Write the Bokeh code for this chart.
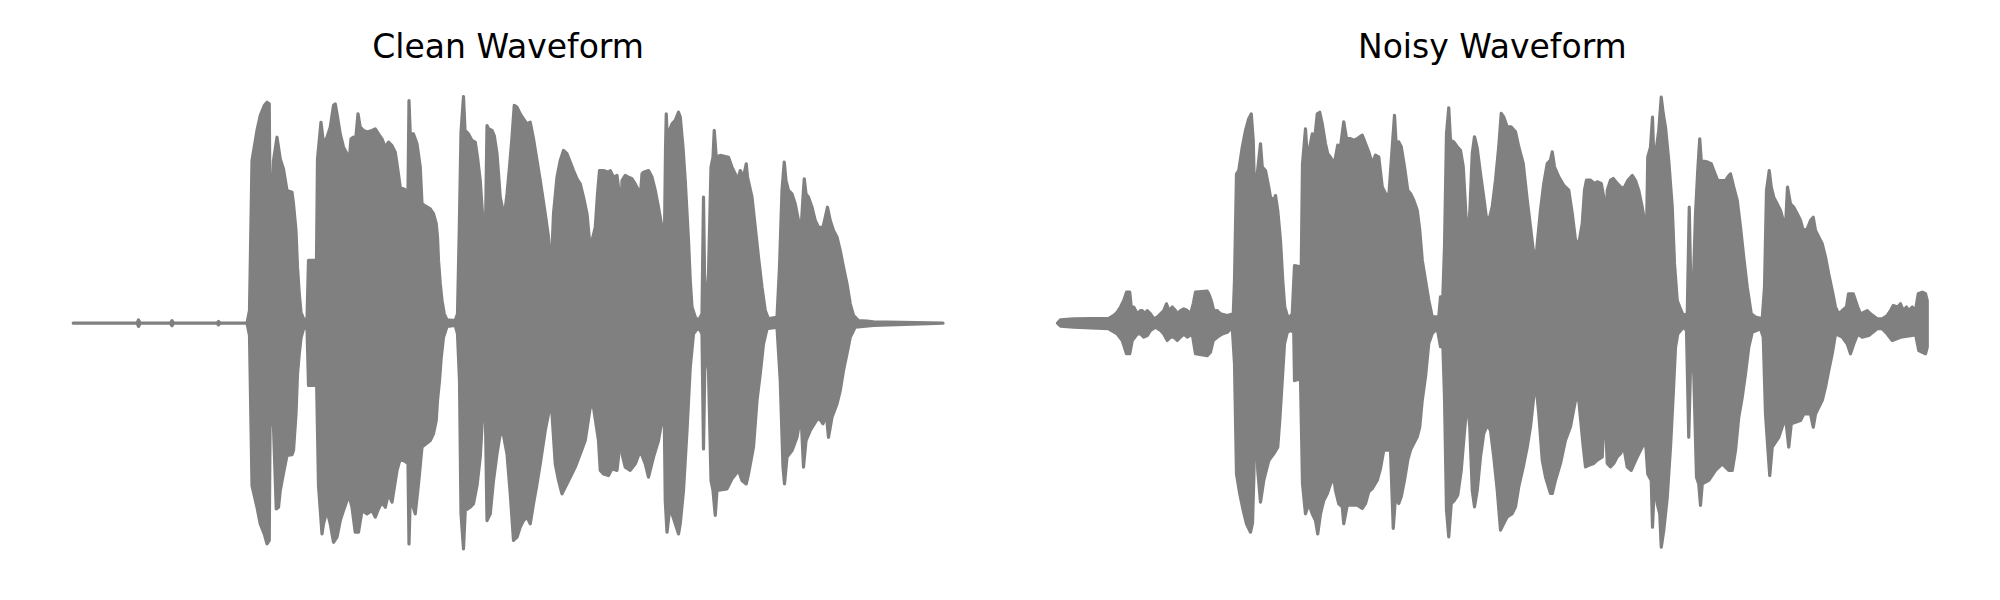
from bokeh.plotting import figure
from bokeh.layouts import row
from bokeh.models import Range1d, Label
from bokeh.embed import file_html
from bokeh.resources import INLINE

# Titles
titles = ["Clean Waveform", "Noisy Waveform"]

# ---- Clean waveform envelope (time in ms, amplitude normalised) ----
clean_up_t = [0, 255, 261, 268, 388, 395, 401, 575, 581, 588, 695, 705, 715, 735, 748, 764, 775, 784,
              788, 801, 815, 828, 841, 855, 875, 881, 891, 897, 904, 911, 921, 935, 941, 968, 972, 977,
              991, 1001, 1015, 1028, 1041, 1048, 1055, 1068, 1081, 1095, 1105, 1111, 1121, 1128, 1139,
              1148, 1161, 1175, 1195, 1208, 1221, 1235, 1248, 1261, 1275, 1288, 1295, 1308, 1332, 1339,
              1343, 1348, 1361, 1375, 1388, 1395, 1428, 1441, 1452, 1457, 1461, 1468, 1475, 1484, 1495,
              1528, 1537, 1544, 1551, 1561, 1567, 1581, 1595, 1608, 1617, 1628, 1637, 1648, 1655, 1661,
              1675, 1684, 1695, 1708, 1719, 1728, 1735, 1745, 1755, 1764, 1775, 1788, 1801, 1815, 1828,
              1841, 1855, 1868, 1888, 1901, 1908, 1915, 1921, 1935, 1948, 1961, 1975, 1988, 2001, 2015,
              2028, 2041, 2055, 2065, 2075, 2088, 2097, 2105, 2121, 2141, 2148, 2161, 2175, 2181, 2188,
              2195, 2208, 2221, 2235, 2248, 2261, 2268, 2275, 2281, 2301, 2315, 2328, 2341, 2355, 2364,
              2369, 2372, 2377, 2385, 2395, 2408, 2421, 2428, 2439, 2448, 2461, 2468, 2475, 2488, 2501,
              2515, 2521, 2527, 2535, 2541, 2551, 2559, 2564, 2572, 2588, 2621, 2635, 2648, 2657, 2668,
              2681, 2692, 2697, 2715, 2728, 2741, 2755, 2768, 2781, 2815, 2825, 2835, 2844, 2851, 2861,
              2875, 2888, 2901, 2911, 2919, 2924, 2931, 2941, 2955, 2968, 2981, 2999, 3008, 3017, 3028,
              3041, 3055, 3068, 3081, 3095, 3108, 3121, 3141, 3175, 3201, 3479]
clean_up_a = [0, 0, 0.014, 0, 0, 0.011, 0, 0, 0.007, 0, 0, 0.054, 0.697, 0.826, 0.89, 0.933, 0.947, 0.94,
              0.354, 0.697, 0.797, 0.704, 0.661, 0.569, 0.561, 0.511, 0.397, 0.24, 0.126, 0.047, 0.019, 0.014,
              0.269, 0.269, 0.171, 0.704, 0.861, 0.769, 0.797, 0.84, 0.933, 0.94, 0.897, 0.811, 0.754, 0.726,
              0.711, 0.79, 0.797, 0.769, 0.897, 0.84, 0.826, 0.819, 0.826, 0.833, 0.811, 0.79, 0.754, 0.776,
              0.761, 0.733, 0.683, 0.583, 0.569, 0.569, 0.954, 0.811, 0.811, 0.769, 0.669, 0.511, 0.49, 0.469,
              0.426, 0.369, 0.269, 0.169, 0.097, 0.04, 0.014, 0.011, 0.04, 0.397, 0.819, 0.971, 0.826, 0.811,
              0.783, 0.776, 0.711, 0.611, 0.469, 0.34, 0.847, 0.833, 0.826, 0.804, 0.726, 0.54, 0.483, 0.49,
              0.554, 0.669, 0.797, 0.933, 0.926, 0.897, 0.876, 0.854, 0.861, 0.79, 0.697, 0.611, 0.469, 0.369,
              0.261, 0.311, 0.469, 0.626, 0.697, 0.74, 0.726, 0.69, 0.654, 0.619, 0.597, 0.54, 0.469, 0.354,
              0.354, 0.411, 0.554, 0.654, 0.654, 0.647, 0.654, 0.626, 0.633, 0.583, 0.34, 0.611, 0.633, 0.626,
              0.619, 0.597, 0.569, 0.54, 0.64, 0.647, 0.654, 0.626, 0.569, 0.497, 0.411, 0.297, 0.74, 0.897,
              0.769, 0.826, 0.854, 0.869, 0.904, 0.883, 0.754, 0.611, 0.354, 0.183, 0.069, 0.026, 0.011, 0.04,
              0.54, 0.054, 0.126, 0.211, 0.669, 0.711, 0.826, 0.711, 0.719, 0.711, 0.669, 0.64, 0.611, 0.654,
              0.626, 0.683, 0.626, 0.54, 0.411, 0.283, 0.154, 0.054, 0.019, 0.026, 0.24, 0.569, 0.69, 0.611,
              0.569, 0.554, 0.511, 0.44, 0.397, 0.54, 0.619, 0.554, 0.54, 0.497, 0.44, 0.411, 0.411, 0.454,
              0.497, 0.44, 0.397, 0.369, 0.311, 0.24, 0.169, 0.083, 0.033, 0.011, 0.009, 0.006, 0]

clean_lo_t = [0, 255, 261, 268, 388, 395, 401, 575, 581, 588, 695, 705, 715, 735, 748, 764, 775, 784,
              788, 801, 812, 821, 828, 841, 855, 875, 881, 891, 897, 904, 911, 921, 935, 941, 968, 972, 981,
              995, 1001, 1015, 1028, 1041, 1055, 1068, 1081, 1095, 1105, 1115, 1128, 1141, 1155, 1175, 1195,
              1208, 1221, 1235, 1248, 1261, 1275, 1295, 1308, 1332, 1339, 1343, 1348, 1368, 1381, 1395, 1428,
              1441, 1452, 1457, 1465, 1472, 1481, 1495, 1528, 1537, 1545, 1551, 1561, 1568, 1588, 1601, 1615,
              1628, 1641, 1648, 1655, 1668, 1681, 1695, 1708, 1721, 1735, 1748, 1761, 1775, 1788, 1801, 1815,
              1828, 1841, 1855, 1868, 1888, 1901, 1908, 1915, 1928, 1941, 1955, 1968, 1988, 2008, 2028, 2048,
              2068, 2081, 2101, 2108, 2121, 2141, 2155, 2175, 2181, 2188, 2195, 2208, 2228, 2248, 2268, 2288,
              2301, 2321, 2341, 2355, 2364, 2368, 2375, 2385, 2395, 2408, 2421, 2428, 2441, 2455, 2468, 2481,
              2501, 2515, 2521, 2528, 2541, 2551, 2559, 2568, 2575, 2615, 2635, 2661, 2675, 2692, 2701, 2721,
              2735, 2748, 2761, 2775, 2815, 2828, 2839, 2845, 2855, 2875, 2895, 2911, 2921, 2931, 2948, 2981,
              2999, 3012, 3021, 3035, 3055, 3068, 3081, 3095, 3108, 3128, 3201, 3479]
clean_lo_a = [0, 0, -0.014, 0, 0, -0.011, 0, 0, -0.007, 0, 0, -0.053, -0.696, -0.789, -0.86, -0.903, -0.946,
              -0.931, -0.331, -0.446, -0.796, -0.789, -0.717, -0.643, -0.567, -0.564, -0.546, -0.389, -0.217,
              -0.131, -0.064, -0.024, -0.017, -0.267, -0.267, -0.171, -0.696, -0.903, -0.86, -0.803, -0.86,
              -0.939, -0.917, -0.846, -0.803, -0.76, -0.746, -0.789, -0.896, -0.896, -0.803, -0.817, -0.803,
              -0.831, -0.796, -0.767, -0.789, -0.731, -0.767, -0.631, -0.581, -0.596, -0.603, -0.946, -0.746,
              -0.817, -0.689, -0.531, -0.503, -0.474, -0.417, -0.331, -0.246, -0.146, -0.06, -0.014, -0.01,
              -0.046, -0.246, -0.817, -0.967, -0.803, -0.789, -0.774, -0.696, -0.574, -0.331, -0.346, -0.846,
              -0.817, -0.674, -0.56, -0.474, -0.481, -0.56, -0.731, -0.931, -0.917, -0.874, -0.846, -0.831,
              -0.86, -0.774, -0.689, -0.603, -0.46, -0.389, -0.331, -0.389, -0.603, -0.674, -0.731, -0.703,
              -0.66, -0.617, -0.56, -0.503, -0.36, -0.36, -0.503, -0.631, -0.646, -0.653, -0.624, -0.631,
              -0.574, -0.331, -0.56, -0.617, -0.631, -0.603, -0.546, -0.603, -0.66, -0.574, -0.503, -0.417,
              -0.389, -0.76, -0.896, -0.803, -0.817, -0.86, -0.903, -0.86, -0.717, -0.46, -0.189, -0.046,
              -0.017, -0.046, -0.539, -0.074, -0.203, -0.674, -0.717, -0.824, -0.717, -0.71, -0.667, -0.631,
              -0.674, -0.689, -0.646, -0.531, -0.331, -0.217, -0.089, -0.024, -0.017, -0.246, -0.617, -0.689,
              -0.574, -0.546, -0.489, -0.389, -0.617, -0.503, -0.46, -0.403, -0.431, -0.389, -0.489, -0.403,
              -0.346, -0.289, -0.203, -0.131, -0.06, -0.017, -0.01, 0]

# ---- Noisy waveform envelope (time in ms, amplitude normalised) ----
noisy_up_t = [0, 12, 65, 205, 225, 239, 252, 265, 276, 289, 295, 305, 319, 332, 339, 352, 359, 372, 385,
              399, 412, 425, 436, 445, 459, 472, 481, 492, 505, 519, 532, 543, 552, 599, 605, 615, 625, 639,
              652, 679, 703, 708, 716, 725, 739, 752, 765, 775, 783, 792, 799, 812, 819, 832, 845, 852, 865,
              872, 881, 892, 901, 909, 919, 929, 939, 948, 975, 980, 992, 999, 1009, 1019, 1028, 1039, 1049,
              1059, 1072, 1081, 1092, 1105, 1112, 1121, 1132, 1145, 1156, 1172, 1185, 1199, 1219, 1232, 1245,
              1259, 1272, 1285, 1299, 1312, 1325, 1339, 1348, 1356, 1365, 1375, 1388, 1401, 1412, 1425, 1439,
              1449, 1459, 1472, 1485, 1499, 1525, 1532, 1539, 1548, 1556, 1565, 1572, 1585, 1599, 1612, 1623,
              1632, 1639, 1649, 1659, 1668, 1679, 1692, 1703, 1716, 1729, 1739, 1752, 1765, 1775, 1785, 1799,
              1815, 1832, 1845, 1863, 1879, 1892, 1903, 1912, 1919, 1932, 1945, 1959, 1972, 1979, 1988, 2005,
              2025, 2045, 2059, 2072, 2085, 2099, 2108, 2116, 2132, 2148, 2159, 2175, 2185, 2192, 2199, 2212,
              2223, 2239, 2252, 2265, 2281, 2299, 2312, 2325, 2339, 2348, 2356, 2361, 2372, 2380, 2385, 2396,
              2405, 2415, 2423, 2432, 2445, 2459, 2468, 2479, 2489, 2503, 2519, 2527, 2535, 2543, 2552, 2561,
              2569, 2575, 2601, 2615, 2628, 2641, 2672, 2681, 2692, 2705, 2719, 2732, 2745, 2759, 2775, 2792,
              2819, 2828, 2836, 2847, 2855, 2865, 2879, 2892, 2903, 2912, 2920, 2932, 2945, 2959, 2972, 2983,
              2999, 3012, 3023, 3032, 3045, 3059, 3072, 3085, 3099, 3112, 3125, 3139, 3156, 3164, 3183, 3192,
              3201, 3212, 3239, 3252, 3279, 3299, 3319, 3332, 3343, 3361, 3372, 3383, 3396, 3405, 3419, 3432,
              3443, 3459, 3472, 3479]
noisy_up_a = [0, 0.014, 0.019, 0.021, 0.033, 0.047, 0.069, 0.097, 0.133, 0.133, 0.069, 0.069, 0.04, 0.054,
              0.054, 0.04, 0.054, 0.04, 0.019, 0.026, 0.04, 0.054, 0.083, 0.054, 0.069, 0.054, 0.04, 0.054,
              0.061, 0.054, 0.04, 0.083, 0.133, 0.137, 0.126, 0.097, 0.054, 0.054, 0.04, 0.033, 0.04, 0.183,
              0.64, 0.654, 0.754, 0.826, 0.876, 0.897, 0.783, 0.383, 0.64, 0.769, 0.669, 0.654, 0.583, 0.54,
              0.526, 0.547, 0.483, 0.354, 0.183, 0.069, 0.033, 0.026, 0.04, 0.247, 0.24, 0.683, 0.833, 0.711,
              0.754, 0.811, 0.783, 0.897, 0.904, 0.854, 0.769, 0.726, 0.711, 0.683, 0.711, 0.763, 0.756,
              0.863, 0.791, 0.791, 0.784, 0.791, 0.806, 0.77, 0.734, 0.684, 0.72, 0.713, 0.584, 0.556, 0.541,
              0.756, 0.891, 0.741, 0.777, 0.756, 0.67, 0.57, 0.556, 0.527, 0.484, 0.399, 0.27, 0.184, 0.099,
              0.027, 0.027, 0.113, 0.041, 0.327, 0.813, 0.923, 0.784, 0.777, 0.756, 0.741, 0.67, 0.499, 0.356,
              0.47, 0.727, 0.799, 0.749, 0.641, 0.556, 0.449, 0.456, 0.499, 0.613, 0.756, 0.899, 0.884, 0.841,
              0.841, 0.82, 0.756, 0.684, 0.527, 0.413, 0.313, 0.256, 0.341, 0.484, 0.599, 0.684, 0.699, 0.734,
              0.67, 0.627, 0.591, 0.57, 0.47, 0.356, 0.341, 0.427, 0.57, 0.613, 0.613, 0.599, 0.606, 0.599,
              0.541, 0.327, 0.57, 0.613, 0.62, 0.599, 0.584, 0.577, 0.611, 0.633, 0.611, 0.569, 0.497, 0.44,
              0.383, 0.711, 0.754, 0.883, 0.711, 0.754, 0.826, 0.969, 0.897, 0.84, 0.697, 0.497, 0.254, 0.097,
              0.069, 0.033, 0.04, 0.497, 0.054, 0.154, 0.469, 0.654, 0.79, 0.697, 0.69, 0.683, 0.647, 0.611,
              0.611, 0.626, 0.64, 0.583, 0.526, 0.411, 0.283, 0.154, 0.04, 0.026, 0.019, 0.154, 0.569, 0.654,
              0.583, 0.54, 0.511, 0.483, 0.44, 0.411, 0.583, 0.511, 0.497, 0.469, 0.44, 0.397, 0.404, 0.44,
              0.454, 0.397, 0.369, 0.34, 0.283, 0.211, 0.14, 0.069, 0.04, 0.054, 0.069, 0.126, 0.126, 0.097,
              0.069, 0.04, 0.054, 0.04, 0.019, 0.019, 0.033, 0.054, 0.076, 0.069, 0.083, 0.054, 0.069, 0.054,
              0.069, 0.054, 0.126, 0.133, 0.126, 0.097]

noisy_lo_t = [0, 12, 65, 205, 239, 259, 276, 289, 299, 319, 332, 345, 359, 372, 392, 412, 425, 439, 452,
              465, 479, 492, 505, 519, 539, 552, 599, 612, 623, 639, 659, 679, 699, 708, 716, 729, 743, 756,
              772, 780, 785, 792, 801, 812, 825, 845, 865, 881, 889, 899, 908, 919, 932, 945, 948, 972, 980,
              992, 1005, 1019, 1032, 1041, 1052, 1065, 1079, 1092, 1105, 1112, 1125, 1139, 1145, 1159, 1179,
              1199, 1219, 1232, 1245, 1259, 1279, 1292, 1305, 1332, 1343, 1352, 1365, 1375, 1388, 1401, 1412,
              1425, 1439, 1449, 1459, 1472, 1485, 1499, 1519, 1532, 1540, 1548, 1556, 1565, 1575, 1588, 1601,
              1615, 1625, 1639, 1649, 1659, 1668, 1679, 1692, 1705, 1719, 1732, 1745, 1759, 1772, 1785, 1799,
              1819, 1832, 1845, 1863, 1879, 1892, 1905, 1912, 1925, 1939, 1952, 1972, 1979, 1992, 2012, 2032,
              2052, 2072, 2085, 2103, 2112, 2125, 2145, 2159, 2179, 2188, 2199, 2212, 2225, 2239, 2252, 2265,
              2279, 2295, 2312, 2325, 2339, 2352, 2361, 2375, 2380, 2388, 2399, 2409, 2415, 2425, 2439, 2452,
              2463, 2472, 2481, 2503, 2516, 2525, 2535, 2545, 2556, 2565, 2572, 2579, 2605, 2632, 2659, 2685,
              2699, 2712, 2725, 2739, 2752, 2765, 2779, 2812, 2823, 2832, 2841, 2849, 2859, 2885, 2912, 2925,
              2935, 2972, 2985, 3012, 3023, 3032, 3059, 3072, 3085, 3099, 3112, 3139, 3159, 3172, 3185, 3201,
              3219, 3245, 3279, 3299, 3319, 3339, 3372, 3419, 3432, 3445, 3472, 3479]
noisy_lo_a = [0, -0.013, -0.017, -0.024, -0.046, -0.074, -0.131, -0.131, -0.074, -0.046, -0.046, -0.06,
              -0.053, -0.031, -0.017, -0.031, -0.046, -0.074, -0.06, -0.06, -0.074, -0.06, -0.046, -0.06,
              -0.046, -0.131, -0.139, -0.124, -0.074, -0.06, -0.046, -0.039, -0.017, -0.174, -0.646, -0.731,
              -0.803, -0.86, -0.896, -0.857, -0.674, -0.346, -0.631, -0.767, -0.674, -0.589, -0.56, -0.531,
              -0.417, -0.246, -0.089, -0.039, -0.031, -0.039, -0.246, -0.239, -0.689, -0.817, -0.774, -0.817,
              -0.846, -0.903, -0.817, -0.76, -0.731, -0.689, -0.66, -0.717, -0.774, -0.787, -0.859, -0.78,
              -0.78, -0.78, -0.794, -0.773, -0.723, -0.709, -0.673, -0.623, -0.544, -0.544, -0.88, -0.744,
              -0.773, -0.744, -0.673, -0.587, -0.544, -0.516, -0.487, -0.444, -0.33, -0.23, -0.087, -0.044,
              -0.023, -0.101, -0.044, -0.316, -0.801, -0.916, -0.773, -0.759, -0.737, -0.63, -0.501, -0.33,
              -0.444, -0.716, -0.787, -0.716, -0.573, -0.473, -0.437, -0.459, -0.573, -0.716, -0.887, -0.859,
              -0.83, -0.816, -0.787, -0.701, -0.616, -0.53, -0.444, -0.316, -0.244, -0.387, -0.587, -0.659,
              -0.73, -0.73, -0.673, -0.601, -0.501, -0.444, -0.33, -0.33, -0.53, -0.616, -0.609, -0.601,
              -0.587, -0.573, -0.33, -0.601, -0.616, -0.601, -0.573, -0.559, -0.53, -0.617, -0.631, -0.589,
              -0.56, -0.531, -0.503, -0.646, -0.674, -0.874, -0.674, -0.774, -0.817, -0.96, -0.889, -0.746,
              -0.531, -0.303, -0.103, -0.046, -0.017, -0.031, -0.489, -0.06, -0.217, -0.66, -0.689, -0.781,
              -0.689, -0.674, -0.631, -0.603, -0.631, -0.631, -0.546, -0.403, -0.317, -0.217, -0.103, -0.039,
              -0.024, -0.06, -0.389, -0.531, -0.653, -0.531, -0.489, -0.403, -0.531, -0.431, -0.417, -0.389,
              -0.389, -0.446, -0.389, -0.331, -0.274, -0.203, -0.131, -0.046, -0.06, -0.089, -0.131, -0.089,
              -0.046, -0.06, -0.053, -0.024, -0.024, -0.046, -0.074, -0.06, -0.053, -0.046, -0.117, -0.131,
              -0.103]

GRAY = "#808080"
Y_RANGE = (-1.12, 1.3829)


def make_panel(title, up_t, up_a, lo_t, lo_a, x_start, x_end):
    p = figure(width=992, height=584, output_backend="svg", toolbar_location=None,
               x_range=Range1d(x_start, x_end), y_range=Range1d(*Y_RANGE),
               x_axis_type=None, y_axis_type=None, min_border=0)
    p.grid.visible = False
    p.outline_line_color = None
    p.background_fill_color = "white"
    p.border_fill_color = "white"
    xs = list(up_t) + list(lo_t)[::-1]
    ys = list(up_a) + list(lo_a)[::-1]
    p.patch(xs, ys, fill_color=GRAY, line_color=GRAY, line_width=3.2, line_join="round")
    p.add_layout(Label(x=(up_t[0] + up_t[-1]) / 2, y=1.186, text=title,
                       text_font="DejaVu Sans", text_font_size="33px",
                       text_align="center", text_baseline="alphabetic", text_color="black"))
    return p


p1 = make_panel(titles[0], clean_up_t, clean_up_a, clean_lo_t, clean_lo_a, -291, 3677)
p2 = make_panel(titles[1], noisy_up_t, noisy_up_a, noisy_lo_t, noisy_lo_a, -260, 3708)

layout = row(p1, p2)
open("out.html", "w").write(file_html(layout, INLINE))
